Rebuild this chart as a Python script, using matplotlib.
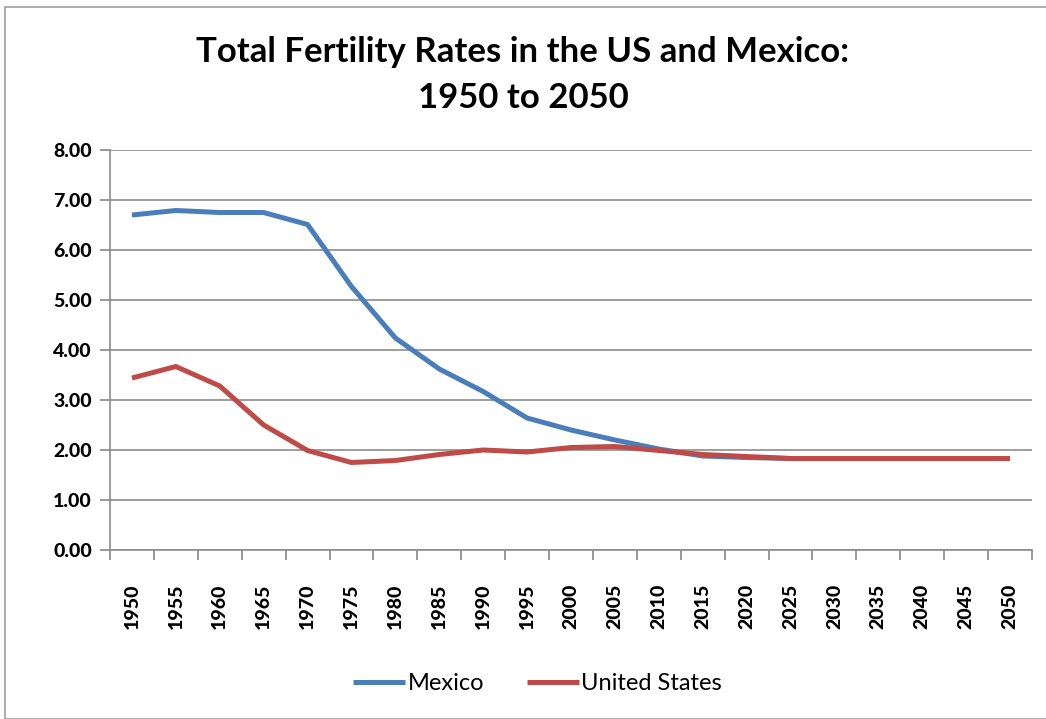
import matplotlib
matplotlib.use("Agg")
from matplotlib import pyplot as plt
from matplotlib.patches import Rectangle
import numpy as np

years = [str(y) for y in range(1950, 2051, 5)]
mexico = [6.70, 6.79, 6.75, 6.75, 6.51, 5.27, 4.24, 3.62, 3.17, 2.64, 2.40,
          2.20, 2.02, 1.88, 1.85, 1.83, 1.83, 1.83, 1.83, 1.83, 1.83]
united_states = [3.44, 3.67, 3.28, 2.50, 1.99, 1.75, 1.79, 1.91, 2.00, 1.96, 2.05,
                 2.07, 1.99, 1.91, 1.87, 1.83, 1.83, 1.83, 1.83, 1.83, 1.83]

plt.rcParams['font.family'] = ['Lato', 'DejaVu Sans']

fig = plt.figure(figsize=(10.46, 7.19), dpi=100)
fig.patches.append(Rectangle((5 / 1046, 0), 1, 1 - 7 / 719, transform=fig.transFigure,
                             fill=False, edgecolor='#a0a0a0', linewidth=1.2))
ax = fig.add_axes([110 / 1046, 1 - 550 / 719, 922 / 1046, 400 / 719])

x = np.arange(len(years))
ax.plot(x, mexico, color='#4a7ebb', lw=3.6, label='Mexico', solid_capstyle='butt')
ax.plot(x, united_states, color='#be4b48', lw=3.6, label='United States', solid_capstyle='butt')

ax.set_xlim(-0.5, len(years) - 0.5)
ax.set_ylim(0, 8)
ax.set_yticks(np.arange(0, 9, 1))
ax.set_yticklabels([f"{v:.2f}" for v in range(9)], fontweight='black', fontsize=14)
ax.set_xticks(x)
ax.set_xticklabels(years, rotation=90, fontweight='black', fontsize=14)
ax.set_xticks(np.arange(-0.5, len(years), 1), minor=True)
ax.tick_params(axis='x', which='major', length=0, pad=24)
ax.tick_params(axis='x', which='minor', length=7, color='#888888', width=1.2)
ax.tick_params(axis='y', length=7, color='#888888', width=1.2, pad=6)
ax.grid(axis='y', color='#8c8c8c', lw=1.2)
ax.set_axisbelow(True)
for s in ['top', 'right']:
    ax.spines[s].set_visible(False)
for s in ['left', 'bottom']:
    ax.spines[s].set_color('#8c8c8c')
    ax.spines[s].set_linewidth(1.2)

fig.text(0.5, 1 - 52 / 719, "Total Fertility Rates in the US and Mexico:",
         ha='center', va='center', fontsize=25, fontweight='bold')
fig.text(0.5, 1 - 98 / 719, "1950 to 2050",
         ha='center', va='center', fontsize=25, fontweight='bold')
fig.legend(loc='center', bbox_to_anchor=(0.514, 1 - 684 / 719), ncol=2, frameon=False,
           fontsize=17, handlelength=2.2, handletextpad=0.1, columnspacing=1.8)

fig.savefig("out.png", dpi=100)
